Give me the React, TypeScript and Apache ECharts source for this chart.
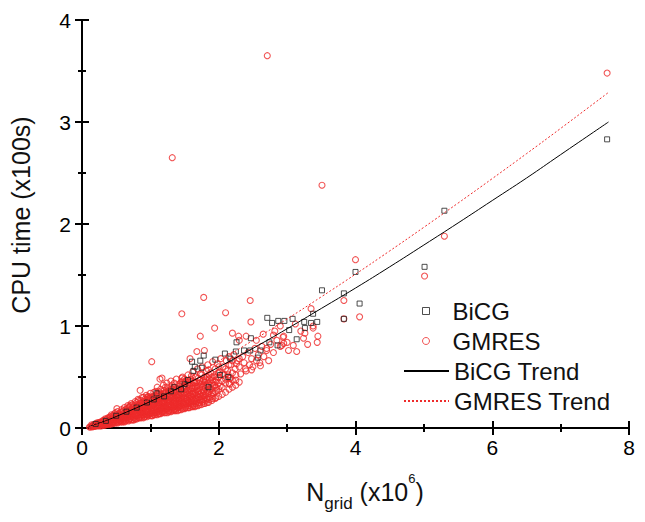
import React, { useEffect, useRef } from "react";
import * as echarts from "echarts";

const FONT = "'Liberation Sans', Arial, sans-serif";

// GMRES scatter points [N_grid (x10^6), CPU time (x100s)]
const gmresPoints: number[][] = [
  [0.12, 0.01], [0.15, 0.02], [0.18, 0.015], [0.2, 0.03], [0.22, 0.05], [0.25, 0.02], [0.27, 0.04], [0.3, 0.06],
  [0.3, 0.03], [0.33, 0.05], [0.35, 0.08], [0.36, 0.04], [0.38, 0.06], [0.4, 0.1], [0.4, 0.05], [0.42, 0.07],
  [0.44, 0.12], [0.45, 0.06], [0.47, 0.09], [0.48, 0.14], [0.5, 0.07], [0.5, 0.11], [0.52, 0.16], [0.53, 0.09],
  [0.55, 0.13], [0.56, 0.07], [0.58, 0.18], [0.58, 0.1], [0.6, 0.14], [0.61, 0.08], [0.62, 0.2], [0.63, 0.12],
  [0.65, 0.16], [0.66, 0.1], [0.67, 0.22], [0.68, 0.13], [0.7, 0.18], [0.7, 0.09], [0.72, 0.24], [0.73, 0.14],
  [0.74, 0.2], [0.75, 0.11], [0.77, 0.16], [0.78, 0.26], [0.79, 0.12], [0.8, 0.21], [0.81, 0.15], [0.82, 0.28],
  [0.83, 0.1], [0.84, 0.18], [0.85, 0.24], [0.86, 0.13], [0.88, 0.3], [0.88, 0.2], [0.89, 0.15], [0.9, 0.26],
  [0.91, 0.11], [0.92, 0.22], [0.93, 0.17], [0.94, 0.32], [0.95, 0.13], [0.96, 0.25], [0.97, 0.19], [0.98, 0.29],
  [0.99, 0.14], [1.0, 0.22], [1.0, 0.34], [1.01, 0.17], [1.02, 0.27], [1.03, 0.12], [1.04, 0.31], [1.05, 0.2],
  [1.06, 0.24], [1.07, 0.15], [1.08, 0.36], [1.09, 0.28], [1.1, 0.18], [1.1, 0.4], [1.11, 0.22], [1.12, 0.33],
  [1.13, 0.14], [1.14, 0.26], [1.15, 0.38], [1.16, 0.2], [1.17, 0.3], [1.18, 0.16], [1.19, 0.42], [1.2, 0.24],
  [1.21, 0.34], [1.22, 0.19], [1.23, 0.28], [1.24, 0.44], [1.25, 0.22], [1.26, 0.37], [1.27, 0.17], [1.28, 0.31],
  [1.29, 0.26], [1.3, 0.46], [1.31, 0.21], [1.32, 0.35], [1.33, 0.28], [1.34, 0.4], [1.35, 0.18], [1.36, 0.3],
  [1.37, 0.24], [1.38, 0.48], [1.39, 0.36], [1.4, 0.2], [1.41, 0.33], [1.42, 0.27], [1.43, 0.43], [1.44, 0.22],
  [1.45, 0.38], [1.46, 0.3], [1.47, 0.5], [1.48, 0.25], [1.49, 0.41], [1.5, 0.34], [1.51, 0.2], [1.52, 0.46],
  [1.53, 0.28], [1.54, 0.37], [1.55, 0.52], [1.56, 0.24], [1.57, 0.43], [1.58, 0.32], [1.59, 0.48], [1.6, 0.27],
  [1.61, 0.39], [1.62, 0.55], [1.63, 0.22], [1.64, 0.45], [1.65, 0.34], [1.66, 0.5], [1.67, 0.29], [1.68, 0.41],
  [1.69, 0.58], [1.7, 0.36], [1.71, 0.25], [1.72, 0.47], [1.73, 0.53], [1.74, 0.31], [1.75, 0.43], [1.76, 0.6],
  [1.77, 0.38], [1.78, 0.28], [1.79, 0.5], [1.8, 0.45], [1.81, 0.34], [1.82, 0.56], [1.83, 0.41], [1.84, 0.62],
  [1.85, 0.3], [1.86, 0.48], [1.87, 0.38], [1.88, 0.54], [1.9, 0.44], [1.91, 0.65], [1.92, 0.34], [1.93, 0.51],
  [1.94, 0.42], [1.95, 0.58], [1.96, 0.47], [1.97, 0.37], [1.98, 0.63], [2.0, 0.5], [2.01, 0.55], [2.02, 0.41],
  [2.03, 0.68], [2.05, 0.46], [2.06, 0.6], [2.08, 0.52], [2.1, 0.44], [2.11, 0.66], [2.13, 0.56], [2.15, 0.7],
  [2.16, 0.49], [2.18, 0.62], [2.2, 0.54], [2.22, 0.72], [2.24, 0.58], [2.25, 0.47], [2.27, 0.66], [2.3, 0.6],
  [2.32, 0.53], [2.35, 0.7], [2.37, 0.64], [2.4, 0.56], [2.43, 0.74], [2.45, 0.62], [2.48, 0.68], [2.5, 0.6],
  [2.53, 0.78], [2.55, 0.66], [2.58, 0.72], [2.6, 0.64], [2.63, 0.8], [2.66, 0.7], [2.7, 0.76], [2.73, 0.66],
  [2.76, 0.82], [2.8, 0.74], [2.85, 0.86], [2.9, 0.8], [2.95, 0.9], [3.0, 0.84],
  [1.78, 1.28], [2.46, 1.25], [2.1, 1.13], [2.47, 1.04], [1.94, 0.98], [1.73, 0.9], [1.46, 1.12], [2.29, 0.9],
  [3.44, 0.84], [3.24, 0.88], [3.02, 0.76], [3.14, 0.75], [2.61, 0.61], [2.48, 0.57], [2.39, 0.58], [2.17, 0.49],
  [2.16, 0.43], [1.02, 0.65], [0.85, 0.37], [1.14, 0.48], [0.51, 0.19], [1.68, 0.75], [1.79, 0.76], [1.58, 0.68],
  [1.17, 0.49], [1.46, 0.49], [2.92, 0.81], [3.09, 0.81], [2.8, 0.91], [2.26, 0.63], [2.14, 0.52], [1.99, 0.54],
  [2.55, 0.86], [2.65, 0.92], [2.82, 0.95], [2.9, 1.0], [3.12, 1.02], [3.2, 0.95], [3.3, 0.82], [2.7, 0.78],
  [2.95, 0.83], [3.45, 0.9], [2.3, 0.86], [2.4, 0.9], [2.2, 0.93], [3.35, 1.17], [3.38, 1.0], [3.26, 0.93],
  [2.94, 0.89], [3.38, 0.98], [3.83, 1.25], [3.83, 1.07], [4.06, 1.09], [4.0, 1.65], [5.01, 1.49], [5.3, 1.88],
  [7.68, 3.48], [2.71, 3.65], [1.32, 2.65], [3.51, 2.38],
];

// Dense lower part of the GMRES cloud
const gmresDense: number[][] = [
  [0.15, 0.01], [0.16, 0.025], [0.25, 0.03], [0.26, 0.045], [0.32, 0.025], [0.32, 0.07], [0.4, 0.035], [0.41, 0.08],
  [0.46, 0.045], [0.46, 0.07], [0.46, 0.11], [0.52, 0.05], [0.52, 0.12], [0.53, 0.08], [0.57, 0.06], [0.57, 0.12],
  [0.62, 0.06], [0.62, 0.09], [0.62, 0.15], [0.68, 0.07], [0.68, 0.17], [0.69, 0.2], [0.72, 0.08], [0.72, 0.11],
  [0.72, 0.16], [0.76, 0.08], [0.76, 0.14], [0.76, 0.22], [0.8, 0.09], [0.8, 0.12], [0.8, 0.17], [0.8, 0.25],
  [0.85, 0.1], [0.85, 0.15], [0.85, 0.2], [0.9, 0.1], [0.9, 0.13], [0.9, 0.19], [0.9, 0.23], [0.9, 0.3],
  [0.95, 0.11], [0.95, 0.16], [0.95, 0.21], [0.95, 0.28], [1.0, 0.12], [1.0, 0.15], [1.0, 0.19], [1.0, 0.26],
  [1.0, 0.3], [1.05, 0.13], [1.05, 0.17], [1.05, 0.23], [1.05, 0.35], [1.1, 0.13], [1.1, 0.16], [1.1, 0.25],
  [1.1, 0.31], [1.15, 0.14], [1.15, 0.18], [1.15, 0.23], [1.15, 0.29], [1.15, 0.34], [1.2, 0.15], [1.2, 0.2],
  [1.2, 0.27], [1.2, 0.37], [1.25, 0.15], [1.25, 0.19], [1.25, 0.25], [1.25, 0.32], [1.25, 0.4], [1.3, 0.16],
  [1.3, 0.23], [1.3, 0.29], [1.3, 0.38], [1.35, 0.17], [1.35, 0.21], [1.35, 0.26], [1.35, 0.34], [1.35, 0.44],
  [1.4, 0.17], [1.4, 0.24], [1.4, 0.3], [1.4, 0.39], [1.45, 0.18], [1.45, 0.26], [1.45, 0.34], [1.45, 0.45],
  [1.5, 0.19], [1.5, 0.23], [1.5, 0.29], [1.5, 0.38], [1.5, 0.48], [1.55, 0.2], [1.55, 0.27], [1.55, 0.33],
  [1.55, 0.42], [1.6, 0.21], [1.6, 0.24], [1.6, 0.31], [1.6, 0.36], [1.6, 0.51], [1.65, 0.21], [1.65, 0.27],
  [1.65, 0.39], [1.65, 0.44], [1.7, 0.22], [1.7, 0.3], [1.7, 0.33], [1.7, 0.49], [1.75, 0.23], [1.75, 0.27],
  [1.75, 0.35], [1.75, 0.52], [1.8, 0.24], [1.8, 0.3], [1.8, 0.39], [1.85, 0.25], [1.85, 0.34], [1.85, 0.44],
  [1.85, 0.57], [1.9, 0.27], [1.9, 0.31], [1.9, 0.38], [1.9, 0.5], [1.95, 0.29], [1.95, 0.36], [1.95, 0.45],
  [2.0, 0.31], [2.0, 0.38], [2.0, 0.44], [2.0, 0.6], [2.05, 0.33], [2.05, 0.4], [2.05, 0.53], [2.1, 0.35],
  [2.1, 0.48], [2.1, 0.58], [2.15, 0.38], [2.15, 0.44], [2.15, 0.62], [2.2, 0.4], [2.2, 0.47], [2.2, 0.66],
  [2.25, 0.42], [2.25, 0.52], [2.3, 0.45], [2.3, 0.68],
];

// Further points filling the solid core of the GMRES cloud
const gmresCore: number[][] = [
  [0.2, 0.02], [0.2, 0.04], [0.24, 0.025], [0.24, 0.05], [0.28, 0.02], [0.28, 0.035], [0.28, 0.06], [0.34, 0.03],
  [0.34, 0.05], [0.34, 0.09], [0.38, 0.04], [0.38, 0.07], [0.38, 0.1], [0.43, 0.04], [0.43, 0.06], [0.43, 0.09],
  [0.43, 0.13], [0.49, 0.05], [0.49, 0.08], [0.49, 0.1], [0.49, 0.15], [0.54, 0.06], [0.54, 0.1], [0.54, 0.14],
  [0.59, 0.06], [0.59, 0.09], [0.59, 0.12], [0.59, 0.16], [0.64, 0.07], [0.64, 0.11], [0.64, 0.14], [0.64, 0.18],
  [0.69, 0.08], [0.69, 0.11], [0.69, 0.15], [0.69, 0.21], [0.74, 0.08], [0.74, 0.12], [0.74, 0.18], [0.74, 0.23],
  [0.78, 0.09], [0.78, 0.13], [0.78, 0.19], [0.83, 0.1], [0.83, 0.13], [0.83, 0.17], [0.83, 0.22], [0.83, 0.27],
  [0.87, 0.1], [0.87, 0.16], [0.87, 0.19], [0.87, 0.25], [0.92, 0.11], [0.92, 0.14], [0.92, 0.2], [0.92, 0.24],
  [0.92, 0.28], [0.97, 0.12], [0.97, 0.15], [0.97, 0.22], [0.97, 0.27], [0.97, 0.31], [1.02, 0.12], [1.02, 0.16],
  [1.02, 0.2], [1.02, 0.24], [1.02, 0.29], [1.07, 0.13], [1.07, 0.18], [1.07, 0.21], [1.07, 0.27], [1.07, 0.32],
  [1.12, 0.14], [1.12, 0.17], [1.12, 0.21], [1.12, 0.25], [1.12, 0.29], [1.12, 0.36], [1.17, 0.15], [1.17, 0.19],
  [1.17, 0.24], [1.17, 0.27], [1.17, 0.33], [1.22, 0.15], [1.22, 0.18], [1.22, 0.22], [1.22, 0.3], [1.22, 0.35],
  [1.22, 0.4], [1.27, 0.16], [1.27, 0.2], [1.27, 0.24], [1.27, 0.28], [1.27, 0.34], [1.32, 0.17], [1.32, 0.2],
  [1.32, 0.25], [1.32, 0.3], [1.32, 0.38], [1.32, 0.42], [1.37, 0.17], [1.37, 0.22], [1.37, 0.27], [1.37, 0.32],
  [1.37, 0.37], [1.42, 0.18], [1.42, 0.21], [1.42, 0.25], [1.42, 0.29], [1.42, 0.36], [1.42, 0.41], [1.47, 0.19],
  [1.47, 0.23], [1.47, 0.27], [1.47, 0.32], [1.47, 0.4], [1.47, 0.46], [1.52, 0.2], [1.52, 0.24], [1.52, 0.3],
  [1.52, 0.35], [1.52, 0.41], [1.57, 0.2], [1.57, 0.25], [1.57, 0.29], [1.57, 0.35], [1.57, 0.39], [1.57, 0.47],
  [1.62, 0.21], [1.62, 0.26], [1.62, 0.3], [1.62, 0.34], [1.62, 0.42], [1.67, 0.22], [1.67, 0.26], [1.67, 0.32],
  [1.67, 0.37], [1.67, 0.45], [1.72, 0.23], [1.72, 0.28], [1.72, 0.33], [1.72, 0.4], [1.78, 0.24], [1.78, 0.32],
  [1.78, 0.36], [1.78, 0.42], [1.78, 0.47], [1.83, 0.25], [1.83, 0.29], [1.83, 0.37], [1.83, 0.5],
];

// Last layer of points between the others in the solid core
const gmresFill: number[][] = [
  [0.11, 0.01], [0.14, 0.015], [0.14, 0.03], [0.18, 0.02], [0.18, 0.035], [0.22, 0.02], [0.22, 0.035], [0.26, 0.03],
  [0.26, 0.055], [0.31, 0.04], [0.31, 0.075], [0.36, 0.035], [0.36, 0.06], [0.36, 0.085], [0.41, 0.05], [0.41, 0.065],
  [0.41, 0.11], [0.46, 0.055], [0.46, 0.09], [0.46, 0.125], [0.51, 0.06], [0.51, 0.085], [0.51, 0.13], [0.56, 0.075],
  [0.56, 0.105], [0.56, 0.15], [0.61, 0.07], [0.61, 0.1], [0.61, 0.13], [0.61, 0.17], [0.66, 0.085], [0.66, 0.12],
  [0.66, 0.15], [0.66, 0.19], [0.71, 0.095], [0.71, 0.13], [0.71, 0.17], [0.71, 0.22], [0.76, 0.1], [0.76, 0.18],
  [0.76, 0.2], [0.81, 0.11], [0.81, 0.14], [0.81, 0.19], [0.81, 0.23], [0.86, 0.115], [0.86, 0.17], [0.86, 0.21],
  [0.86, 0.27], [0.91, 0.125], [0.91, 0.165], [0.91, 0.21], [0.91, 0.26], [0.96, 0.13], [0.96, 0.18], [0.96, 0.235],
  [0.96, 0.3], [1.01, 0.14], [1.01, 0.18], [1.01, 0.22], [1.01, 0.27], [1.06, 0.15], [1.06, 0.19], [1.06, 0.26],
  [1.06, 0.3], [1.11, 0.155], [1.11, 0.2], [1.11, 0.235], [1.11, 0.27], [1.11, 0.34], [1.16, 0.165], [1.16, 0.21],
  [1.16, 0.255], [1.16, 0.31], [1.21, 0.17], [1.21, 0.21], [1.21, 0.25], [1.21, 0.29], [1.21, 0.33], [1.26, 0.175],
  [1.26, 0.22], [1.26, 0.26], [1.26, 0.3], [1.26, 0.36], [1.31, 0.185], [1.31, 0.22], [1.31, 0.27], [1.31, 0.32],
  [1.31, 0.36], [1.36, 0.19], [1.36, 0.24], [1.36, 0.29], [1.36, 0.35], [1.36, 0.4], [1.41, 0.2], [1.41, 0.23],
  [1.41, 0.27], [1.41, 0.32], [1.41, 0.38], [1.46, 0.205], [1.46, 0.25], [1.46, 0.29], [1.46, 0.36], [1.46, 0.43],
  [1.51, 0.215], [1.51, 0.26], [1.51, 0.32], [1.51, 0.38], [1.51, 0.44], [1.56, 0.22], [1.56, 0.26], [1.56, 0.31],
  [1.56, 0.37], [1.56, 0.45], [1.61, 0.23], [1.61, 0.28], [1.61, 0.33], [1.61, 0.39], [1.61, 0.46], [1.66, 0.24],
  [1.66, 0.29], [1.66, 0.35], [1.66, 0.41], [1.71, 0.245], [1.71, 0.3], [1.71, 0.37], [1.71, 0.44], [1.76, 0.255],
  [1.76, 0.31], [1.76, 0.4], [1.76, 0.46], [1.81, 0.27], [1.81, 0.32], [1.81, 0.42], [1.81, 0.48], [1.86, 0.28],
  [1.86, 0.36], [1.86, 0.42], [1.86, 0.52], [1.91, 0.29], [1.91, 0.35], [1.91, 0.42], [1.91, 0.47], [1.96, 0.3],
  [1.96, 0.4], [1.96, 0.5],
];

// BiCG scatter points
const bicgPoints: number[][] = [
  [0.2, 0.04], [0.35, 0.07], [0.5, 0.12], [0.65, 0.16], [0.8, 0.2], [0.95, 0.25], [1.05, 0.28], [1.09, 0.34],
  [1.2, 0.31], [1.3, 0.36], [1.35, 0.4], [1.45, 0.38], [1.5, 0.43], [1.55, 0.47], [1.61, 0.65], [1.65, 0.6],
  [1.63, 0.56], [1.75, 0.59], [1.73, 0.66], [1.78, 0.71], [1.85, 0.4], [1.95, 0.67], [2.02, 0.52], [2.09, 0.73],
  [2.14, 0.5], [2.17, 0.68], [2.25, 0.75], [2.26, 0.84], [2.37, 0.76], [2.46, 0.76], [2.47, 0.88], [2.57, 0.69],
  [2.61, 0.76], [2.71, 1.08], [2.74, 0.84], [2.78, 1.03], [2.86, 0.81], [2.87, 1.05], [2.96, 1.05], [3.03, 0.96],
  [3.08, 1.07], [3.14, 0.87], [3.25, 1.04], [3.26, 0.98], [3.35, 1.03], [3.38, 1.12], [3.44, 1.04], [3.51, 1.35],
  [3.83, 1.32], [3.83, 1.07], [4.0, 1.53], [4.06, 1.22], [5.01, 1.58], [5.3, 2.13], [7.68, 2.83],
];

// Trend lines
const trendX = [0.1, 0.3, 0.5, 1, 1.5, 2, 2.5, 3, 3.5, 4, 4.5, 5, 5.5, 6, 6.5, 7, 7.7];
const bicgTrendY = [0.016, 0.061, 0.113, 0.26, 0.423, 0.597, 0.781, 0.973, 1.172, 1.372, 1.58, 1.794, 2.01, 2.23, 2.45, 2.68, 3.0];
const gmresTrendY = [0.018, 0.068, 0.125, 0.287, 0.466, 0.657, 0.859, 1.069, 1.286, 1.508, 1.736, 1.968, 2.205, 2.445, 2.689, 2.937, 3.29];

const scatterNames = ["BiCG", "GMRES"];
const lineNames = ["BiCG Trend", "GMRES Trend"];

const RED = "#ee2b2b";
const DARK = "#222";

export default function App() {
  const ref = useRef<HTMLDivElement>(null);
  useEffect(() => {
    if (!ref.current) return;
    const chart = echarts.init(ref.current, undefined, { renderer: "svg" });
    const axisLine = { show: true, lineStyle: { color: "#000", width: 2 } };
    const axisTick = { show: true, inside: true, length: 7, lineStyle: { color: "#000", width: 2 } };
    const minorTick = { show: true, splitNumber: 2, length: 4, lineStyle: { color: "#000", width: 2 } };
    const labelStyle = { color: "#000", fontSize: 21, fontFamily: FONT };
    const hidden = { color: "rgba(0,0,0,0)", borderWidth: 0, opacity: 0 };
    const legendText = { fontSize: 24, fontFamily: FONT, color: "#111" };
    chart.setOption({
      animation: false,
      backgroundColor: "#fff",
      grid: { left: 82, top: 20, right: 16, bottom: 94, containLabel: false },
      xAxis: [
        {
          type: "value", min: 0, max: 8, interval: 2, position: "bottom",
          axisLine, axisTick, minorTick, splitLine: { show: false },
          axisLabel: { ...labelStyle, margin: 9 },
        },
        {
          type: "value", min: 0, max: 8, interval: 2, position: "top",
          axisLine, axisTick, minorTick, splitLine: { show: false },
          axisLabel: { show: false },
        },
      ],
      yAxis: [
        {
          type: "value", min: 0, max: 4, interval: 1, position: "left",
          axisLine, axisTick, minorTick, splitLine: { show: false },
          axisLabel: { ...labelStyle, margin: 11 },
        },
        {
          type: "value", min: 0, max: 4, interval: 1, position: "right",
          axisLine, axisTick, minorTick, splitLine: { show: false },
          axisLabel: { show: false },
        },
      ],
      legend: [
        {
          data: [
            {
              name: scatterNames[0],
              icon: "rect",
              itemStyle: { color: "rgba(0,0,0,0)", borderColor: DARK, borderWidth: 1 },
            },
            {
              name: scatterNames[1],
              icon: "circle",
              itemStyle: { color: "rgba(0,0,0,0)", borderColor: RED, borderWidth: 1 },
            },
          ],
          orient: "vertical",
          left: 417,
          top: 294,
          itemWidth: 7,
          itemHeight: 7,
          itemGap: 6,
          textStyle: { ...legendText, padding: [0, 0, 0, 18] },
          selectedMode: false,
        },
        {
          data: [
            { name: lineNames[0], itemStyle: hidden },
            { name: lineNames[1], itemStyle: hidden },
          ],
          orient: "vertical",
          left: 398,
          top: 354,
          itemWidth: 45,
          itemHeight: 7,
          itemGap: 6,
          textStyle: legendText,
          selectedMode: false,
        },
      ],
      graphic: [
        {
          type: "text",
          x: 21,
          y: 215,
          rotation: Math.PI / 2,
          style: {
            text: "CPU time (x100s)",
            fontSize: 25,
            fontFamily: FONT,
            fill: "#111",
            align: "center",
            verticalAlign: "middle",
          },
        },
        {
          type: "text",
          x: 365,
          y: 472,
          style: {
            text: "{n|N}{s|grid}{n| (x10}{p|6}{n|)}",
            align: "center",
            verticalAlign: "top",
            fill: "#111",
            rich: {
              n: { fontSize: 25, fontFamily: FONT, lineHeight: 40, fill: "#111" },
              s: { fontSize: 17, fontFamily: FONT, lineHeight: 17, verticalAlign: "bottom", fill: "#111" },
              p: { fontSize: 13, fontFamily: FONT, lineHeight: 30, verticalAlign: "top", fill: "#111" },
            },
          },
        },
      ],
      series: [
        {
          name: "GMRES",
          type: "scatter",
          symbol: "circle",
          symbolSize: 6,
          data: gmresPoints.concat(gmresDense, gmresCore, gmresFill),
          itemStyle: { color: "rgba(0,0,0,0)", borderColor: RED, borderWidth: 1.1 },
          emphasis: { disabled: true },
        },
        {
          name: "BiCG",
          type: "scatter",
          symbol: "rect",
          symbolSize: 5,
          data: bicgPoints,
          itemStyle: { color: "rgba(0,0,0,0)", borderColor: DARK, borderWidth: 1 },
          emphasis: { disabled: true },
        },
        {
          name: "BiCG Trend",
          type: "line",
          showSymbol: false,
          symbol: "none",
          data: trendX.map((x, i) => [x, bicgTrendY[i]]),
          smooth: true,
          lineStyle: { color: "#000", width: 1 },
          itemStyle: { color: "#000", opacity: 0 },
        },
        {
          name: "GMRES Trend",
          type: "line",
          showSymbol: false,
          symbol: "none",
          data: trendX.map((x, i) => [x, gmresTrendY[i]]),
          smooth: true,
          lineStyle: { color: RED, width: 1, type: [2, 2] },
          itemStyle: { color: RED, opacity: 0 },
        },
      ],
    });
    return () => chart.dispose();
  }, []);
  return <div ref={ref} style={{ width: 645, height: 522, margin: -8 }} />;
}
